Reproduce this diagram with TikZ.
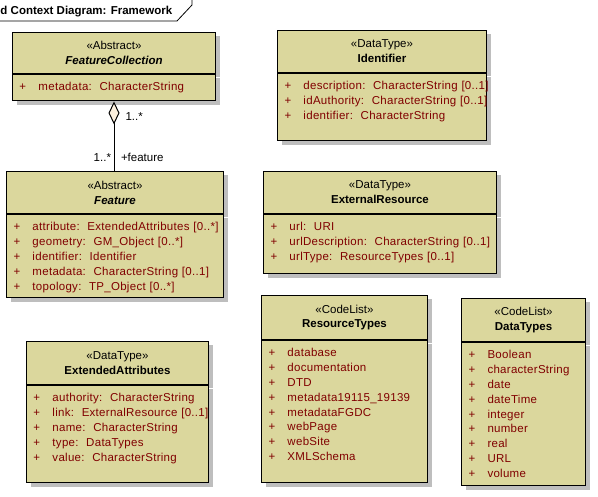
\documentclass[tikz,border=0pt]{standalone}
\usepackage{fontspec}
\setmainfont{Liberation Sans}
\newfontfamily\attrfont[LetterSpace=2.5]{Liberation Sans}
\usepackage{tikz}
\usetikzlibrary{arrows.meta,shadows}
\definecolor{classfill}{RGB}{219,215,157}
\definecolor{attrred}{RGB}{128,0,0}
\definecolor{shadowgray}{RGB}{190,190,190}
\definecolor{diamondfill}{RGB}{253,241,222}
\tikzstyle{classbox} = [draw=black, line width=1pt, fill=classfill, anchor=north west, inner ysep=0pt,
  general shadow={fill=shadowgray, shadow xshift=4pt, shadow yshift=-4pt}]
\tikzstyle{classhead} = [classbox, inner xsep=0pt, align=center, text=black]
\tikzstyle{classbody} = [classbox, inner xsep=7pt, align=left, text height=16.5pt, text=attrred,
  font={\attrfont\fontsize{11.5}{14.8}\selectfont}]
\tikzstyle{multlabel} = [inner sep=0pt, color=black]
\tikzset{font={\fontsize{11.5}{14.8}\selectfont}}
\newcommand{\attrow}[1]{\mbox{\makebox[19pt][l]{+}#1}}

\begin{document}
\begin{tikzpicture}[x=1pt, y=-1pt]
  \useasboundingbox (0,0) rectangle (598,497);

  \node[anchor=base west, inner sep=0pt, font={\fontsize{11.5}{14}\selectfont\bfseries}] (frameTitle)
    at (0.3,14.5) {d Context Diagram: Framework};
  \draw[line width=0.8pt] (0,21) -- (177,21) -- (192,5) -- (192,0);

  \node[classhead, text width=203pt, minimum height=41pt] (fcHead) at (12,32)
    {«Abstract»\\ \textbf{\textit{FeatureCollection}}};
  \node[classbody, text width=189pt, text depth=10pt] (fcBody) at (fcHead.south west)
    {\attrow{metadata:\ \ CharacterString}};

  \node[classhead, text width=217pt, minimum height=42pt] (featHead) at (6,171)
    {«Abstract»\\ \textbf{\textit{Feature}}};
  \node[classbody, text width=203pt, text depth=67pt] (featBody) at (featHead.south west)
    {\attrow{attribute:\ \ ExtendedAttributes [0..*]}\\
     \attrow{geometry:\ \ GM\_Object [0..*]}\\
     \attrow{identifier:\ \ Identifier}\\
     \attrow{metadata:\ \ CharacterString [0..1]}\\
     \attrow{topology:\ \ TP\_Object [0..*]}};

  \node[classhead, text width=209pt, minimum height=42pt] (idHead) at (277,30)
    {«DataType»\\ \textbf{Identifier}};
  \node[classbody, text width=195pt, text depth=51pt] (idBody) at (idHead.south west)
    {\attrow{description:\ \ CharacterString [0..1]}\\
     \attrow{idAuthority:\ \ CharacterString [0..1]}\\
     \attrow{identifier:\ \ CharacterString}};

  \node[classhead, text width=233pt, minimum height=42pt] (extResHead) at (263,171)
    {«DataType»\\ \textbf{ExternalResource}};
  \node[classbody, text width=219pt, text depth=43pt] (extResBody) at (extResHead.south west)
    {\attrow{url:\ \ URI}\\
     \attrow{urlDescription:\ \ CharacterString [0..1]}\\
     \attrow{urlType:\ \ ResourceTypes [0..1]}};

  \node[classhead, text width=182pt, minimum height=43pt] (extAttHead) at (26,341)
    {«DataType»\\ \textbf{ExtendedAttributes}};
  \node[classbody, text width=168pt, text depth=81pt] (extAttBody) at (extAttHead.south west)
    {\attrow{authority:\ \ CharacterString}\\
     \attrow{link:\ \ ExternalResource [0..1]}\\
     \attrow{name:\ \ CharacterString}\\
     \attrow{type:\ \ DataTypes}\\
     \attrow{value:\ \ CharacterString}};

  \node[classhead, text width=166pt, minimum height=44pt] (resTypesHead) at (261,295)
    {«CodeList»\\ \textbf{ResourceTypes}};
  \node[classbody, text width=152pt, text depth=126pt] (resTypesBody) at (resTypesHead.south west)
    {\attrow{database}\\
     \attrow{documentation}\\
     \attrow{DTD}\\
     \attrow{metadata19115\_19139}\\
     \attrow{metadataFGDC}\\
     \attrow{webPage}\\
     \attrow{webSite}\\
     \attrow{XMLSchema}};

  \node[classhead, text width=124pt, minimum height=43pt] (dataTypesHead) at (461,298)
    {«CodeList»\\ \textbf{DataTypes}};
  \node[classbody, text width=110pt, text depth=127pt] (dataTypesBody) at (dataTypesHead.south west)
    {\attrow{Boolean}\\
     \attrow{characterString}\\
     \attrow{date}\\
     \attrow{dateTime}\\
     \attrow{integer}\\
     \attrow{number}\\
     \attrow{real}\\
     \attrow{URL}\\
     \attrow{volume}};

  \draw[line width=1pt, -{Diamond[length=23pt, width=11pt, fill=diamondfill]}]
    (featHead.north -| fcBody.south) -- (fcBody.south)
    node[multlabel, pos=1, anchor=west, xshift=11pt, yshift=-15pt] (aggMult) {1..*}
    node[multlabel, pos=0, anchor=south east, xshift=-2.5pt, yshift=9pt] (featMult) {1..*}
    node[multlabel, pos=0, anchor=south west, xshift=6.5pt, yshift=9pt] (featRole) {+feature};

\end{tikzpicture}
\end{document}
